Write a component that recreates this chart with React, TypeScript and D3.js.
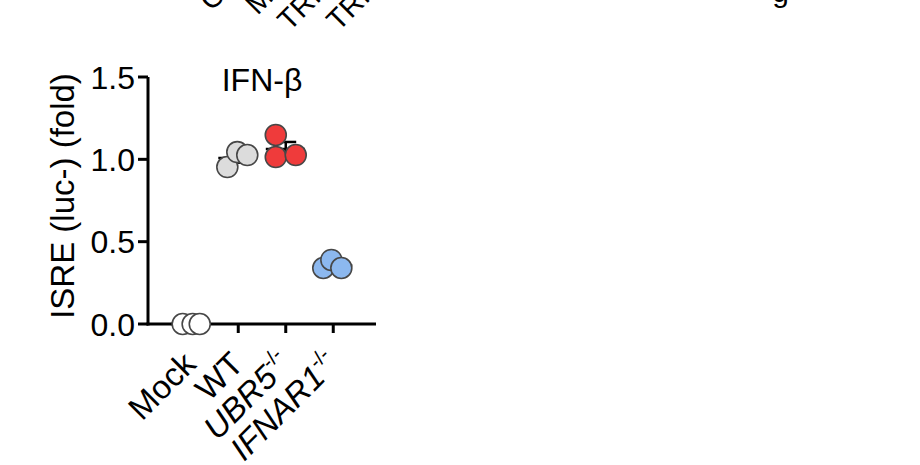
import * as d3 from "d3";

// categories and measured values (fold)
const categories = ["Mock", "WT", "UBR5", "IFNAR1"];
const italicCats = ["UBR5", "IFNAR1"];
const superCats = ["UBR5", "IFNAR1"];
const mockVals = [0, 0, 0];
const wtVals = [0.953, 1.044, 1.026];
const ubr5Vals = [1.148, 1.014, 1.026];
const ifnar1Vals = [0.34, 0.389, 0.34];
// horizontal dodge of each replicate (fraction of category step)
const mockJitter = [-0.17, 0.04, 0.19];
const wtJitter = [-0.23, -0.02, 0.19];
const ubr5Jitter = [-0.21, -0.21, 0.21];
const ifnar1Jitter = [-0.21, -0.04, 0.17];
const fills = ["#ffffff", "#dcdcdc", "#ef3b3b", "#8cb8ef"];
const yTicks = [0, 0.5, 1.0, 1.5];
const title = "IFN-β";
const yLabel = "ISRE (luc-) (fold)";
// clipped labels of the panel above
const upperLabels = ["Ctrl", "Mock", "TRIM", "TRIM"];

const groups = [
  { cat: "Mock", vals: mockVals, jit: mockJitter },
  { cat: "WT", vals: wtVals, jit: wtJitter },
  { cat: "UBR5", vals: ubr5Vals, jit: ubr5Jitter },
  { cat: "IFNAR1", vals: ifnar1Vals, jit: ifnar1Jitter },
];

const W = 920;
const H = 465;
const font = "'Liberation Sans', Arial, sans-serif";

export default function App() {
  const y = d3.scaleLinear().domain([0, 1.5]).range([324, 77]);
  const x = d3.scalePoint<string>().domain(categories).range([148, 376]).padding(0.9);
  const step = x.step();
  const upperX = d3.scalePoint<number>().domain(d3.range(upperLabels.length)).range([160, 380]).padding(0.5);

  return (
    <svg width={W} height={H} style={{ position: "absolute", left: 0, top: 0 }} fontFamily={font}>
      <rect width={W} height={H} fill="#fff" />

      {/* fragments of the panel above */}
      {upperLabels.map((l, i) => {
        const px = (upperX(i) as number) + [24, 15, -8, -14][i];
        const py = [12, 16, 32, 32][i];
        return (
          <text key={i} x={px} y={py} fontSize={29} transform={`rotate(-45,${px},${py})`}>
            {l}
          </text>
        );
      })}
      <text x={789} y={2} fontSize={30} textAnchor="end">g</text>

      {/* axes */}
      <line x1={148} x2={148} y1={y(1.5)} y2={y(0) + 1.5} stroke="#000" strokeWidth={3} />
      <line x1={146.5} x2={376} y1={y(0)} y2={y(0)} stroke="#000" strokeWidth={3} />
      {yTicks.map((t) => (
        <g key={t}>
          <line x1={138} x2={148} y1={y(t)} y2={y(t)} stroke="#000" strokeWidth={3} />
          <text x={135} y={y(t)} dy="0.36em" textAnchor="end" fontSize={32}>
            {t.toFixed(1)}
          </text>
        </g>
      ))}
      {categories.map((c) => (
        <line key={c} x1={x(c)} x2={x(c)} y1={y(0)} y2={y(0) + 9} stroke="#000" strokeWidth={3} />
      ))}

      <text transform={`translate(74,196) rotate(-90)`} textAnchor="middle" fontSize={33}>
        {yLabel}
      </text>
      <text x={262} y={91} textAnchor="middle" fontSize={32}>
        {title}
      </text>

      {/* category labels */}
      {categories.map((c) => {
        const px = (x(c) as number) + 7;
        const py = y(0) + 42;
        return (
          <text
            key={c}
            transform={`translate(${px},${py}) rotate(-45)`}
            textAnchor="end"
            fontSize={33}
          >
            <tspan fontStyle={italicCats.includes(c) ? "italic" : "normal"}>{c}</tspan>
            {superCats.includes(c) && (
              <tspan fontSize={20} dy={-14}>
                -/-
              </tspan>
            )}
          </text>
        );
      })}

      {/* mean ± SEM */}
      {groups.map((g) => {
        const cx = x(g.cat) as number;
        const m = d3.mean(g.vals) as number;
        const sem = (d3.deviation(g.vals) || 0) / Math.sqrt(g.vals.length);
        return (
          <g key={g.cat} stroke="#000" strokeWidth={2.5}>
            <line x1={cx - step * 0.42} x2={cx + step * 0.4} y1={y(m)} y2={y(m)} />
            <line x1={cx} x2={cx} y1={y(m - sem)} y2={y(m + sem)} />
            <line x1={cx - step * 0.22} x2={cx + step * 0.22} y1={y(m + sem)} y2={y(m + sem)} />
            <line x1={cx - step * 0.22} x2={cx + step * 0.22} y1={y(m - sem)} y2={y(m - sem)} />
          </g>
        );
      })}

      {/* replicates */}
      {groups.map((g, gi) =>
        g.vals.map((v, i) => (
          <circle
            key={g.cat + i}
            cx={(x(g.cat) as number) + g.jit[i] * step}
            cy={y(v)}
            r={10.5}
            fill={fills[gi]}
            stroke="#474747"
            strokeWidth={1.6}
          />
        ))
      )}
    </svg>
  );
}
